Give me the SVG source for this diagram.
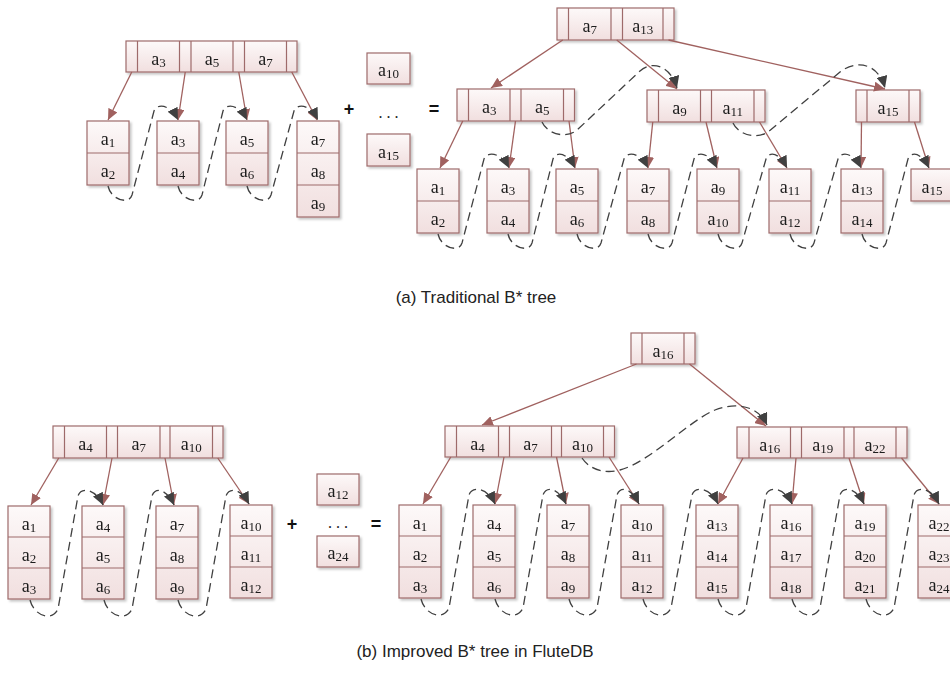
<svg xmlns="http://www.w3.org/2000/svg" width="950" height="688" viewBox="0 0 950 688">
<defs>
<linearGradient id="g" x1="0" y1="0" x2="0" y2="1">
<stop offset="0" stop-color="#fdf9f9"/>
<stop offset="1" stop-color="#f1dfdf"/>
</linearGradient>
<filter id="sh" x="-10%" y="-10%" width="130%" height="130%">
<feDropShadow dx="2" dy="2" stdDeviation="1" flood-color="#000" flood-opacity="0.22"/>
</filter>
<marker id="ab" markerWidth="12" markerHeight="10" refX="11" refY="5" orient="auto" markerUnits="userSpaceOnUse">
<path d="M0,0 L11,5 L0,10 z" fill="#a0615f"/>
</marker>
<marker id="ad" markerWidth="13" markerHeight="11" refX="12" refY="5.5" orient="auto" markerUnits="userSpaceOnUse">
<path d="M0,0 L12,5.5 L0,11 z" fill="#404040"/>
</marker>
</defs>
<style>
.bx{fill:url(#g);stroke:#9e6b6b;stroke-width:1.2}
.dv{stroke:#9e6b6b;stroke-width:1.2}
.nd{filter:url(#sh)}
.k{font-family:"Liberation Serif","Times New Roman",serif;font-size:18px;fill:#1a1a1a;text-anchor:middle}
.s{font-size:13px}
.ar{stroke:#a0615f;stroke-width:1.3;fill:none;marker-end:url(#ab)}
.ds{stroke:#404040;stroke-width:1.3;fill:none;stroke-dasharray:9 5;marker-end:url(#ad)}
.op{font-family:"Liberation Sans",Arial,sans-serif;font-size:18px;font-weight:bold;text-anchor:middle;fill:#111}
.dt{font-family:"Liberation Serif",serif;font-size:16px;text-anchor:middle;fill:#222}
.cap{font-family:"Liberation Sans",Arial,sans-serif;font-size:17px;text-anchor:middle;fill:#222}
</style>
<rect width="950" height="688" fill="#fff"/>

<!-- ===== (a) left tree ===== -->
<g id="a-left-root" class="nd">
<rect class="bx" x="126" y="41" width="171" height="31"/>
<path class="dv" d="M137.5,41V72M179.5,41V72M191,41V72M233,41V72M244.5,41V72M286.5,41V72"/>
<text class="k" x="158.5" y="65">a<tspan class="s" dy="2">3</tspan></text>
<text class="k" x="212" y="65">a<tspan class="s" dy="2">5</tspan></text>
<text class="k" x="265.5" y="65">a<tspan class="s" dy="2">7</tspan></text>
</g>
<g id="a-left-leaf1" class="nd">
<rect class="bx" x="87" y="121" width="42" height="64"/><path class="dv" d="M87,153H129"/>
<text class="k" x="108" y="145">a<tspan class="s" dy="2">1</tspan></text>
<text class="k" x="108" y="177">a<tspan class="s" dy="2">2</tspan></text>
</g>
<g id="a-left-leaf2" class="nd">
<rect class="bx" x="157" y="121" width="42" height="64"/><path class="dv" d="M157,153H199"/>
<text class="k" x="178" y="145">a<tspan class="s" dy="2">3</tspan></text>
<text class="k" x="178" y="177">a<tspan class="s" dy="2">4</tspan></text>
</g>
<g id="a-left-leaf3" class="nd">
<rect class="bx" x="226" y="121" width="42" height="64"/><path class="dv" d="M226,153H268"/>
<text class="k" x="247" y="145">a<tspan class="s" dy="2">5</tspan></text>
<text class="k" x="247" y="177">a<tspan class="s" dy="2">6</tspan></text>
</g>
<g id="a-left-leaf4" class="nd">
<rect class="bx" x="297" y="121" width="42" height="96"/><path class="dv" d="M297,153H339M297,185H339"/>
<text class="k" x="318" y="145">a<tspan class="s" dy="2">7</tspan></text>
<text class="k" x="318" y="177">a<tspan class="s" dy="2">8</tspan></text>
<text class="k" x="318" y="209">a<tspan class="s" dy="2">9</tspan></text>
</g>
<text class="op" x="349" y="115">+</text>
<g id="a-new10" class="nd">
<rect class="bx" x="367" y="53" width="43" height="31"/>
<text class="k" x="388.5" y="76">a<tspan class="s" dy="2">10</tspan></text>
</g>
<text class="dt" x="388.5" y="118">. . .</text>
<g id="a-new15" class="nd">
<rect class="bx" x="367" y="134" width="43" height="32"/>
<text class="k" x="388.5" y="158">a<tspan class="s" dy="2">15</tspan></text>
</g>
<text class="op" x="434" y="115">=</text>

<!-- ===== (a) right tree ===== -->
<g id="a-right-root" class="nd">
<rect class="bx" x="557" y="8" width="117" height="32"/>
<path class="dv" d="M568.5,8V40M611,8V40M622.5,8V40M663,8V40"/>
<text class="k" x="589.75" y="32">a<tspan class="s" dy="2">7</tspan></text>
<text class="k" x="642.75" y="32">a<tspan class="s" dy="2">13</tspan></text>
</g>
<g id="a-right-n1" class="nd">
<rect class="bx" x="457" y="89" width="117.5" height="32"/>
<path class="dv" d="M468.5,89V121M510,89V121M521,89V121M563.5,89V121"/>
<text class="k" x="489.25" y="113">a<tspan class="s" dy="2">3</tspan></text>
<text class="k" x="542.25" y="113">a<tspan class="s" dy="2">5</tspan></text>
</g>
<g id="a-right-n2" class="nd">
<rect class="bx" x="647" y="90" width="118" height="32"/>
<path class="dv" d="M658.5,90V122M700.5,90V122M711.5,90V122M754,90V122"/>
<text class="k" x="679.5" y="114">a<tspan class="s" dy="2">9</tspan></text>
<text class="k" x="732.75" y="114">a<tspan class="s" dy="2">11</tspan></text>
</g>
<g id="a-right-n3" class="nd">
<rect class="bx" x="856" y="90" width="64" height="32"/>
<path class="dv" d="M867,90V122M909,90V122"/>
<text class="k" x="888" y="114">a<tspan class="s" dy="2">15</tspan></text>
</g>
<g id="a-right-leaf1" class="nd">
<rect class="bx" x="417" y="169" width="42" height="64"/><path class="dv" d="M417,201H459"/>
<text class="k" x="438" y="193">a<tspan class="s" dy="2">1</tspan></text>
<text class="k" x="438" y="225">a<tspan class="s" dy="2">2</tspan></text>
</g>
<g id="a-right-leaf2" class="nd">
<rect class="bx" x="487" y="169" width="42" height="64"/><path class="dv" d="M487,201H529"/>
<text class="k" x="508" y="193">a<tspan class="s" dy="2">3</tspan></text>
<text class="k" x="508" y="225">a<tspan class="s" dy="2">4</tspan></text>
</g>
<g id="a-right-leaf3" class="nd">
<rect class="bx" x="556" y="169" width="42" height="64"/><path class="dv" d="M556,201H598"/>
<text class="k" x="577" y="193">a<tspan class="s" dy="2">5</tspan></text>
<text class="k" x="577" y="225">a<tspan class="s" dy="2">6</tspan></text>
</g>
<g id="a-right-leaf4" class="nd">
<rect class="bx" x="627" y="169" width="42" height="64"/><path class="dv" d="M627,201H669"/>
<text class="k" x="648" y="193">a<tspan class="s" dy="2">7</tspan></text>
<text class="k" x="648" y="225">a<tspan class="s" dy="2">8</tspan></text>
</g>
<g id="a-right-leaf5" class="nd">
<rect class="bx" x="697" y="169" width="42" height="64"/><path class="dv" d="M697,201H739"/>
<text class="k" x="718" y="193">a<tspan class="s" dy="2">9</tspan></text>
<text class="k" x="718" y="225">a<tspan class="s" dy="2">10</tspan></text>
</g>
<g id="a-right-leaf6" class="nd">
<rect class="bx" x="769" y="169" width="42" height="64"/><path class="dv" d="M769,201H811"/>
<text class="k" x="790" y="193">a<tspan class="s" dy="2">11</tspan></text>
<text class="k" x="790" y="225">a<tspan class="s" dy="2">12</tspan></text>
</g>
<g id="a-right-leaf7" class="nd">
<rect class="bx" x="841" y="169" width="42" height="64"/><path class="dv" d="M841,201H883"/>
<text class="k" x="862" y="193">a<tspan class="s" dy="2">13</tspan></text>
<text class="k" x="862" y="225">a<tspan class="s" dy="2">14</tspan></text>
</g>
<g id="a-right-leaf8" class="nd">
<rect class="bx" x="911" y="169" width="42" height="32"/>
<text class="k" x="932" y="193">a<tspan class="s" dy="2">15</tspan></text>
</g>
<text class="cap" x="476" y="303">(a) Traditional B* tree</text>

<!-- ===== (b) left tree ===== -->
<g id="b-left-root" class="nd">
<rect class="bx" x="53" y="426" width="170" height="32"/>
<path class="dv" d="M64.5,426V458M106.5,426V458M117.5,426V458M160,426V458M170,426V458M212.5,426V458"/>
<text class="k" x="85.5" y="450">a<tspan class="s" dy="2">4</tspan></text>
<text class="k" x="138.75" y="450">a<tspan class="s" dy="2">7</tspan></text>
<text class="k" x="191.25" y="450">a<tspan class="s" dy="2">10</tspan></text>
</g>
<g id="b-left-leaf1" class="nd">
<rect class="bx" x="8" y="506" width="42" height="93"/><path class="dv" d="M8,537H50M8,568H50"/>
<text class="k" x="29" y="530">a<tspan class="s" dy="2">1</tspan></text>
<text class="k" x="29" y="561">a<tspan class="s" dy="2">2</tspan></text>
<text class="k" x="29" y="592">a<tspan class="s" dy="2">3</tspan></text>
</g>
<g id="b-left-leaf2" class="nd">
<rect class="bx" x="82" y="506" width="42" height="93"/><path class="dv" d="M82,537H124M82,568H124"/>
<text class="k" x="103" y="530">a<tspan class="s" dy="2">4</tspan></text>
<text class="k" x="103" y="561">a<tspan class="s" dy="2">5</tspan></text>
<text class="k" x="103" y="592">a<tspan class="s" dy="2">6</tspan></text>
</g>
<g id="b-left-leaf3" class="nd">
<rect class="bx" x="156" y="506" width="42" height="93"/><path class="dv" d="M156,537H198M156,568H198"/>
<text class="k" x="177" y="530">a<tspan class="s" dy="2">7</tspan></text>
<text class="k" x="177" y="561">a<tspan class="s" dy="2">8</tspan></text>
<text class="k" x="177" y="592">a<tspan class="s" dy="2">9</tspan></text>
</g>
<g id="b-left-leaf4" class="nd">
<rect class="bx" x="230" y="505" width="42" height="93"/><path class="dv" d="M230,536H272M230,567H272"/>
<text class="k" x="251" y="529">a<tspan class="s" dy="2">10</tspan></text>
<text class="k" x="251" y="560">a<tspan class="s" dy="2">11</tspan></text>
<text class="k" x="251" y="591">a<tspan class="s" dy="2">12</tspan></text>
</g>
<text class="op" x="292" y="530">+</text>
<g id="b-new12" class="nd">
<rect class="bx" x="317" y="474" width="42" height="31"/>
<text class="k" x="338" y="497">a<tspan class="s" dy="2">12</tspan></text>
</g>
<text class="dt" x="338" y="528">. . .</text>
<g id="b-new24" class="nd">
<rect class="bx" x="317" y="536" width="42" height="31"/>
<text class="k" x="338" y="559">a<tspan class="s" dy="2">24</tspan></text>
</g>
<text class="op" x="376" y="530">=</text>

<!-- ===== (b) right tree ===== -->
<g id="b-right-root" class="nd">
<rect class="bx" x="631" y="333" width="64" height="31"/>
<path class="dv" d="M642,333V364M684,333V364"/>
<text class="k" x="663" y="357">a<tspan class="s" dy="2">16</tspan></text>
</g>
<g id="b-right-n1" class="nd">
<rect class="bx" x="445" y="426" width="169.5" height="31"/>
<path class="dv" d="M456.5,426V457M498.5,426V457M509.5,426V457M551.5,426V457M561.5,426V457M603.5,426V457"/>
<text class="k" x="477.5" y="450">a<tspan class="s" dy="2">4</tspan></text>
<text class="k" x="530.5" y="450">a<tspan class="s" dy="2">7</tspan></text>
<text class="k" x="582.5" y="450">a<tspan class="s" dy="2">10</tspan></text>
</g>
<g id="b-right-n2" class="nd">
<rect class="bx" x="737" y="427" width="170" height="31"/>
<path class="dv" d="M749,427V458M790.5,427V458M801.5,427V458M844,427V458M854,427V458M896,427V458"/>
<text class="k" x="769.75" y="451">a<tspan class="s" dy="2">16</tspan></text>
<text class="k" x="822.75" y="451">a<tspan class="s" dy="2">19</tspan></text>
<text class="k" x="875" y="451">a<tspan class="s" dy="2">22</tspan></text>
</g>
<g id="b-right-leaf1" class="nd">
<rect class="bx" x="399" y="505" width="42" height="93"/><path class="dv" d="M399,536H441M399,567H441"/>
<text class="k" x="420" y="529">a<tspan class="s" dy="2">1</tspan></text>
<text class="k" x="420" y="560">a<tspan class="s" dy="2">2</tspan></text>
<text class="k" x="420" y="591">a<tspan class="s" dy="2">3</tspan></text>
</g>
<g id="b-right-leaf2" class="nd">
<rect class="bx" x="473" y="505" width="42" height="93"/><path class="dv" d="M473,536H515M473,567H515"/>
<text class="k" x="494" y="529">a<tspan class="s" dy="2">4</tspan></text>
<text class="k" x="494" y="560">a<tspan class="s" dy="2">5</tspan></text>
<text class="k" x="494" y="591">a<tspan class="s" dy="2">6</tspan></text>
</g>
<g id="b-right-leaf3" class="nd">
<rect class="bx" x="547" y="505" width="42" height="93"/><path class="dv" d="M547,536H589M547,567H589"/>
<text class="k" x="568" y="529">a<tspan class="s" dy="2">7</tspan></text>
<text class="k" x="568" y="560">a<tspan class="s" dy="2">8</tspan></text>
<text class="k" x="568" y="591">a<tspan class="s" dy="2">9</tspan></text>
</g>
<g id="b-right-leaf4" class="nd">
<rect class="bx" x="621" y="505" width="42" height="93"/><path class="dv" d="M621,536H663M621,567H663"/>
<text class="k" x="642" y="529">a<tspan class="s" dy="2">10</tspan></text>
<text class="k" x="642" y="560">a<tspan class="s" dy="2">11</tspan></text>
<text class="k" x="642" y="591">a<tspan class="s" dy="2">12</tspan></text>
</g>
<g id="b-right-leaf5" class="nd">
<rect class="bx" x="696" y="505" width="42" height="93"/><path class="dv" d="M696,536H738M696,567H738"/>
<text class="k" x="717" y="529">a<tspan class="s" dy="2">13</tspan></text>
<text class="k" x="717" y="560">a<tspan class="s" dy="2">14</tspan></text>
<text class="k" x="717" y="591">a<tspan class="s" dy="2">15</tspan></text>
</g>
<g id="b-right-leaf6" class="nd">
<rect class="bx" x="770" y="505" width="42" height="93"/><path class="dv" d="M770,536H812M770,567H812"/>
<text class="k" x="791" y="529">a<tspan class="s" dy="2">16</tspan></text>
<text class="k" x="791" y="560">a<tspan class="s" dy="2">17</tspan></text>
<text class="k" x="791" y="591">a<tspan class="s" dy="2">18</tspan></text>
</g>
<g id="b-right-leaf7" class="nd">
<rect class="bx" x="844" y="505" width="42" height="93"/><path class="dv" d="M844,536H886M844,567H886"/>
<text class="k" x="865" y="529">a<tspan class="s" dy="2">19</tspan></text>
<text class="k" x="865" y="560">a<tspan class="s" dy="2">20</tspan></text>
<text class="k" x="865" y="591">a<tspan class="s" dy="2">21</tspan></text>
</g>
<g id="b-right-leaf8" class="nd">
<rect class="bx" x="918" y="505" width="42" height="93"/><path class="dv" d="M918,536H960M918,567H960"/>
<text class="k" x="939" y="529">a<tspan class="s" dy="2">22</tspan></text>
<text class="k" x="939" y="560">a<tspan class="s" dy="2">23</tspan></text>
<text class="k" x="939" y="591">a<tspan class="s" dy="2">24</tspan></text>
</g>
<text class="cap" x="475" y="657">(b) Improved B* tree in FluteDB</text>

<!-- ===== connectors ===== -->
<g id="connectors">
<!-- (a) left -->
<path class="ar" d="M131.75,72L108,120"/>
<path class="ar" d="M185.25,72L178,120"/>
<path class="ar" d="M238.75,72L247,120"/>
<path class="ar" d="M291.75,72L317,120"/>
<path class="ds" d="M108,186C111,200 129,205 132,195L154,111C157,103 170,104 178,120"/>
<path class="ds" d="M178,186C181,200 199,205 202,195L223,111C226,103 239,104 247,120"/>
<path class="ds" d="M247,186C250,200 268,205 271,195L294,111C297,103 310,104 318,120"/>
<!-- (a) right -->
<path class="ar" d="M562.75,40L491,88"/>
<path class="ar" d="M616.75,40L677,89"/>
<path class="ar" d="M668.5,40L885,89"/>
<path class="ar" d="M462.75,121L440,168"/>
<path class="ar" d="M515.5,121L509,168"/>
<path class="ar" d="M569,121L575,168"/>
<path class="ar" d="M652.75,122L648,168"/>
<path class="ar" d="M706,122L717,168"/>
<path class="ar" d="M759.5,122L787,168"/>
<path class="ar" d="M861.5,122L861,168"/>
<path class="ar" d="M914.5,122L929,168"/>
<path class="ds" d="M542,122C547,133 563,139 576,131L640,71C652,60 671,66 677,88"/>
<path class="ds" d="M733,123C738,134 755,140 768,132L840,72C855,60 878,62 885,88"/>
<path class="ds" d="M438,234C441,248 459,253 462,243L484,159C487,151 501,152 509,168"/>
<path class="ds" d="M508,234C511,248 529,253 532,243L553,159C556,151 567,152 575,168"/>
<path class="ds" d="M577,234C580,248 598,253 601,243L624,159C627,151 640,152 648,168"/>
<path class="ds" d="M648,234C651,248 669,253 672,243L694,159C697,151 709,152 717,168"/>
<path class="ds" d="M718,234C721,248 739,253 742,243L766,159C769,151 779,152 787,168"/>
<path class="ds" d="M790,234C793,248 811,253 814,243L838,159C841,151 853,152 861,168"/>
<path class="ds" d="M862,234C865,248 883,253 886,243L908,159C911,151 921,152 929,168"/>
<!-- (b) left -->
<path class="ar" d="M58.75,458L31,505"/>
<path class="ar" d="M112,458L103,505"/>
<path class="ar" d="M165,458L174,505"/>
<path class="ar" d="M217.75,458L249,504"/>
<path class="ds" d="M30,600C34,616 52,622 58,609L78,496C81,487 95,488 103,505"/>
<path class="ds" d="M104,600C108,616 126,622 132,609L152,496C155,487 166,488 174,505"/>
<path class="ds" d="M178,600C182,616 200,622 206,609L226,496C229,487 241,488 249,504"/>
<!-- (b) right -->
<path class="ar" d="M636.5,364L482,425"/>
<path class="ar" d="M689.5,364L766,426"/>
<path class="ar" d="M450.75,457L423,504"/>
<path class="ar" d="M504,457L495,504"/>
<path class="ar" d="M556.5,457L566,504"/>
<path class="ar" d="M609,457L639,504"/>
<path class="ar" d="M743,458L718,504"/>
<path class="ar" d="M796,458L792,504"/>
<path class="ar" d="M849,458L864,504"/>
<path class="ar" d="M901.5,458L939,504"/>
<path class="ds" d="M582,458C590,470 605,474 620,470C650,462 690,420 715,410C735,402 758,405 767,425"/>
<path class="ds" d="M421,599C425,615 443,621 449,608L469,495C472,486 487,487 495,504"/>
<path class="ds" d="M495,599C499,615 517,621 523,608L543,495C546,486 558,487 566,504"/>
<path class="ds" d="M569,599C573,615 591,621 597,608L617,495C620,486 631,487 639,504"/>
<path class="ds" d="M643,599C647,615 665,621 671,608L692,495C695,486 710,487 718,504"/>
<path class="ds" d="M718,599C722,615 740,621 746,608L766,495C769,486 784,487 792,504"/>
<path class="ds" d="M792,599C796,615 814,621 820,608L840,495C843,486 856,487 864,504"/>
<path class="ds" d="M866,599C870,615 888,621 894,608L914,495C917,486 931,487 939,504"/>
</g>
</svg>
